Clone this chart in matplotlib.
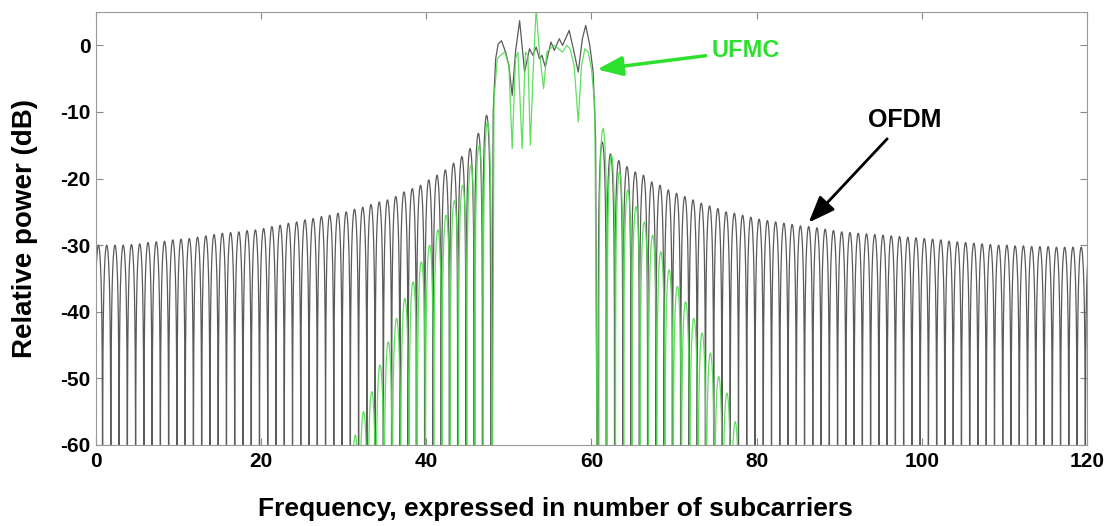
import numpy as np
import matplotlib
matplotlib.use("Agg")
import matplotlib.pyplot as plt

plt.rcParams["font.family"] = ["Liberation Sans", "DejaVu Sans"]
plt.rcParams["axes.unicode_minus"] = False

# --- data -----------------------------------------------------------------
FLOOR = -100  # nulls between side lobes fall below the axis

# OFDM side-lobe peak levels (dB), one lobe per subcarrier
ofdm_left_start = 0
ofdm_left_peaks = [-30.0, -30.0, -30.0, -30.0, -29.9, -29.8, -29.6, -29.5, -29.4, -29.2,
                   -29.1, -29.0, -28.8, -28.6, -28.4, -28.2, -28.1, -28.0, -27.8, -27.7,
                   -27.5, -27.2, -27.0, -26.7, -26.5, -26.2, -26.0, -25.7, -25.5, -25.2,
                   -25.0, -24.6, -24.3, -23.9, -23.5, -23.2, -22.7, -22.0, -21.5, -21.0,
                   -20.2, -19.5, -18.7, -17.7, -16.7, -15.5, -13.2, -10.5]
ofdm_right_start = 61
ofdm_right_peaks = [-14.5, -16.3, -17.3, -18.2, -19.0, -19.5, -20.5, -21.0, -21.7, -22.2,
                    -22.7, -23.2, -23.7, -24.1, -24.5, -25.0, -25.2, -25.5, -25.8, -26.1,
                    -26.3, -26.5, -26.7, -26.9, -27.1, -27.2, -27.4, -27.6, -27.8, -28.0,
                    -28.1, -28.2, -28.3, -28.4, -28.5, -28.6, -28.7, -28.8, -28.9, -29.0,
                    -29.1, -29.2, -29.4, -29.5, -29.6, -29.7, -29.8, -29.9, -30.0, -30.0,
                    -30.1, -30.1, -30.2, -30.2, -30.2, -30.3, -30.3, -30.3, -30.3, -30.3]
ofdm_band_x = [47.8, 48.1, 48.4, 48.7, 49.1, 49.6, 50.0, 50.4, 50.8, 51.3, 51.9, 52.5, 52.9,
               53.3, 53.7, 54.0, 54.4, 55.1, 55.5, 56.1, 56.5, 57.3, 57.8, 58.4, 58.9, 59.3,
               59.8, 60.2, 60.5, 60.8]
ofdm_band_db = [FLOOR, -10.0, -2.0, 0.2, 0.7, -1.0, -3.0, -7.5, -1.0, 3.7, -4.0, -0.5, -1.5,
                -0.25, -2.0, -1.5, -3.2, 0.5, -0.75, 1.0, 0.0, 2.25, -0.5, -4.0, 1.0, 3.0,
                0.0, -4.0, -14.0, FLOOR]

# UFMC side-lobe peak levels (dB)
ufmc_left_start = 31
ufmc_left_peaks = [-58.5, -55.0, -52.0, -48.0, -44.5, -41.0, -38.0, -35.5, -32.5, -30.0,
                   -27.7, -25.5, -23.3, -21.0, -18.0, -15.0, -11.5]
ufmc_right_start = 61
ufmc_right_peaks = [-12.5, -16.5, -19.0, -21.7, -24.2, -26.5, -28.5, -31.0, -33.7, -36.2,
                    -38.5, -41.0, -43.2, -46.2, -49.7, -52.2, -56.5]
ufmc_band_x = [47.9, 48.2, 48.6, 49.0, 49.5, 50.0, 50.4, 50.8, 51.1, 51.6, 52.0, 52.3, 52.6,
               53.0, 53.3, 53.7, 54.2, 54.6, 55.0, 55.5, 56.0, 56.5, 57.0, 57.4, 57.9, 58.4,
               58.8, 59.2, 59.6, 60.0, 60.4, 60.9]
ufmc_band_db = [FLOOR, -8.0, -2.0, -1.5, -1.0, -3.0, -15.5, -2.0, -1.0, -15.5, -1.0, -1.5,
                -15.0, -2.0, 5.5, -1.0, -6.5, -1.0, -0.5, 0.0, -0.5, -1.0, 0.0, -0.5, -3.0,
                -11.5, -3.0, -0.5, -1.0, -3.5, -9.0, FLOOR]


def lobes(start, peaks, offset):
    """Draws one rounded side lobe per subcarrier around the read peak level."""
    t = np.linspace(0, 1, 61)
    shape = 20 * np.log10(np.clip(np.sin(np.pi * t), 1e-5, None))
    xs, ys = [], []
    for i, p in enumerate(peaks):
        xs.append(start + i + offset - 0.5 + t)
        ys.append(np.maximum(p + shape, FLOOR))
    return np.concatenate(xs), np.concatenate(ys)


lx, ly = lobes(ofdm_left_start, ofdm_left_peaks, 0.3)
rx, ry = lobes(ofdm_right_start, ofdm_right_peaks, 0.3)
ofdm_x = np.concatenate([lx, ofdm_band_x, rx])
ofdm_y = np.concatenate([ly, ofdm_band_db, ry])

lx, ly = lobes(ufmc_left_start, ufmc_left_peaks, 0.4)
rx, ry = lobes(ufmc_right_start, ufmc_right_peaks, 0.4)
ufmc_x = np.concatenate([lx, ufmc_band_x, rx])
ufmc_y = np.concatenate([ly, ufmc_band_db, ry])

# --- figure ----------------------------------------------------------------
fig = plt.figure(figsize=(11.12, 5.26), dpi=100)
ax = fig.add_axes([0.0863, 0.154, 0.8912, 0.823])

ax.plot(ofdm_x, ofdm_y, color="#5a5a5a", lw=0.9)
ax.plot(ufmc_x, ufmc_y, color="#4fdc4f", lw=0.9, alpha=0.9)

ax.set_xlim(0, 120)
ax.set_ylim(-60, 5)
ax.set_xticks(range(0, 121, 20))
ax.set_yticks(range(-60, 1, 10))
ax.tick_params(direction="in", top=True, right=True, length=5, color="#888888",
               labelsize=15)
ax.tick_params(axis="x", pad=5)
ax.tick_params(axis="y", pad=4)
for lab in ax.get_xticklabels() + ax.get_yticklabels():
    lab.set_fontweight("bold")
for sp in ax.spines.values():
    sp.set_color("#999999")

ax.set_xlabel("Frequency, expressed in number of subcarriers", fontsize=19,
              fontweight="bold")
ax.xaxis.set_label_coords(0.464, -0.12)
ax.set_ylabel("Relative power (dB)", fontsize=20, fontweight="bold")
ax.yaxis.set_label_coords(-0.058, 0.5)

ax.annotate("UFMC", xy=(60.7, -3.6), xytext=(74.5, -0.8), color="#2ee02e",
            fontsize=17, fontweight="bold", va="center", ha="left",
            arrowprops=dict(arrowstyle="-|>,head_length=0.9,head_width=0.35",
                            color="#2ee02e", lw=2.5, shrinkA=2, shrinkB=0))
ax.annotate("OFDM", xy=(86.3, -26.6), xytext=(93.5, -11.2), color="black",
            fontsize=18, fontweight="bold", va="center", ha="left",
            arrowprops=dict(arrowstyle="-|>,head_length=0.9,head_width=0.35",
                            color="black", lw=2, shrinkA=4, shrinkB=0))

fig.savefig("out.png", dpi=100)
